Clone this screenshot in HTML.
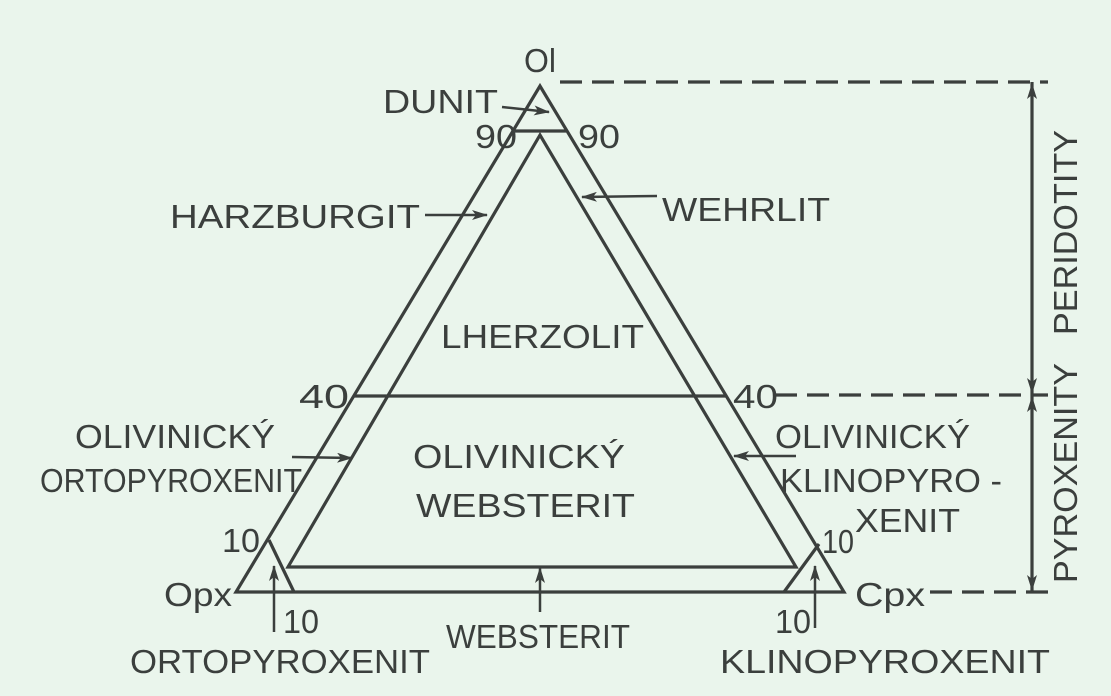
<!DOCTYPE html>
<html><head><meta charset="utf-8"><style>
html,body{margin:0;padding:0;background:#eaf5ec;}
svg{display:block}
text{font-family:"Liberation Sans",sans-serif;fill:#3b3f3d;font-size:33px;}
</style></head><body>
<svg width="1111" height="696" viewBox="0 0 1111 696" xmlns="http://www.w3.org/2000/svg">
<rect width="1111" height="696" fill="#eaf5ec"/>
<defs><marker id="a" markerWidth="16" markerHeight="10" refX="15" refY="5" orient="auto" markerUnits="userSpaceOnUse"><path d="M0,0 L16,5 L0,10 L4,5 Z" fill="#3b3f3d"/></marker></defs>
<g stroke="#3b3f3d" stroke-width="3.2" fill="none">
<polygon points="540,86 236,592 844,592"/>
<polygon points="540,135 288,567 796,567"/>
<line x1="515" y1="131" x2="566" y2="131"/>
<line x1="354" y1="396" x2="726" y2="396"/>
<line x1="269" y1="540" x2="294" y2="592"/>
<line x1="819" y1="544" x2="784" y2="592"/>
<line x1="560" y1="82" x2="1048" y2="82" stroke-dasharray="22,10"/>
<line x1="775" y1="395" x2="1048" y2="395" stroke-dasharray="22,10"/>
<line x1="930" y1="592" x2="1048" y2="592" stroke-dasharray="22,10"/>
<line x1="1032" y1="82" x2="1032" y2="592"/>
</g>
<g stroke="#3b3f3d" stroke-width="2.5" marker-end="url(#a)">
<line x1="502" y1="107" x2="549" y2="112"/>
<line x1="425" y1="215" x2="487" y2="215"/>
<line x1="657" y1="196" x2="582" y2="197"/>
<line x1="292" y1="457" x2="352" y2="458"/>
<line x1="796" y1="456" x2="734" y2="456"/>
<line x1="274" y1="632" x2="274" y2="566"/>
<line x1="540" y1="612" x2="540" y2="568"/>
<line x1="815" y1="628" x2="815" y2="566"/>
<line x1="1032" y1="120" x2="1032" y2="84"/>
<line x1="1032" y1="360" x2="1032" y2="393"/>
<line x1="1032" y1="430" x2="1032" y2="397"/>
<line x1="1032" y1="560" x2="1032" y2="590"/>
</g>
<text x="524" y="72" textLength="32" lengthAdjust="spacingAndGlyphs">Ol</text>
<text x="383" y="113" textLength="115" lengthAdjust="spacingAndGlyphs">DUNIT</text>
<text x="475" y="148" textLength="42" lengthAdjust="spacingAndGlyphs">90</text>
<text x="578" y="148" textLength="42" lengthAdjust="spacingAndGlyphs">90</text>
<text x="170" y="228" textLength="250" lengthAdjust="spacingAndGlyphs">HARZBURGIT</text>
<text x="662" y="221" textLength="168" lengthAdjust="spacingAndGlyphs">WEHRLIT</text>
<text x="441" y="348" textLength="203" lengthAdjust="spacingAndGlyphs">LHERZOLIT</text>
<text x="299" y="408" textLength="50" lengthAdjust="spacingAndGlyphs">40</text>
<text x="733" y="408" textLength="45" lengthAdjust="spacingAndGlyphs">40</text>
<text x="75" y="448" textLength="200" lengthAdjust="spacingAndGlyphs">OLIVINICKÝ</text>
<text x="40" y="492" textLength="262" lengthAdjust="spacingAndGlyphs">ORTOPYROXENIT</text>
<text x="413" y="468" textLength="212" lengthAdjust="spacingAndGlyphs">OLIVINICKÝ</text>
<text x="416" y="517" textLength="219" lengthAdjust="spacingAndGlyphs">WEBSTERIT</text>
<text x="775" y="448" textLength="195" lengthAdjust="spacingAndGlyphs">OLIVINICKÝ</text>
<text x="780" y="492" textLength="222" lengthAdjust="spacingAndGlyphs">KLINOPYRO -</text>
<text x="855" y="532" textLength="105" lengthAdjust="spacingAndGlyphs">XENIT</text>
<text x="222" y="552" textLength="38" lengthAdjust="spacingAndGlyphs">10</text>
<text x="822" y="553" textLength="32" lengthAdjust="spacingAndGlyphs">10</text>
<text x="164" y="606" textLength="68" lengthAdjust="spacingAndGlyphs">Opx</text>
<text x="855" y="606" textLength="70" lengthAdjust="spacingAndGlyphs">Cpx</text>
<text x="283" y="633" textLength="36" lengthAdjust="spacingAndGlyphs">10</text>
<text x="775" y="633" textLength="36" lengthAdjust="spacingAndGlyphs">10</text>
<text x="130" y="673" textLength="300" lengthAdjust="spacingAndGlyphs">ORTOPYROXENIT</text>
<text x="446" y="648" textLength="184" lengthAdjust="spacingAndGlyphs">WEBSTERIT</text>
<text x="720" y="673" textLength="330" lengthAdjust="spacingAndGlyphs">KLINOPYROXENIT</text>
<text transform="translate(1077,335) rotate(-90)" textLength="205" lengthAdjust="spacingAndGlyphs">PERIDOTITY</text>
<text transform="translate(1077,583) rotate(-90)" textLength="220" lengthAdjust="spacingAndGlyphs">PYROXENITY</text>
</svg>
</body></html>
